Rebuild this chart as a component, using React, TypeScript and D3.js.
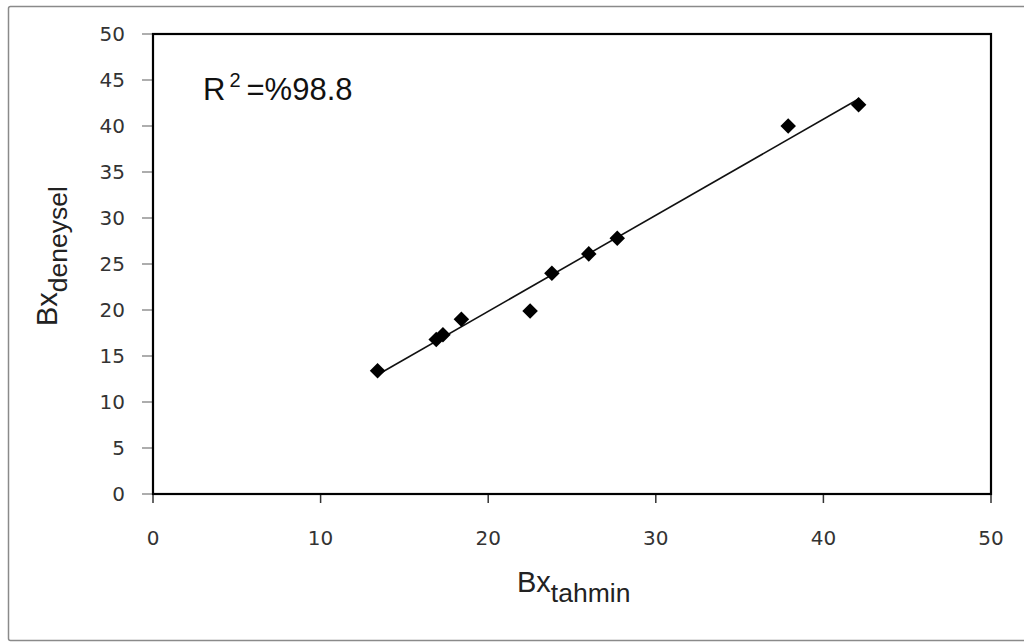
import React from "react";
import * as d3 from "d3";

const xValues = [13.4, 16.9, 17.3, 18.4, 22.5, 23.8, 26.0, 27.7, 37.9, 42.1];
const yValues = [13.4, 16.8, 17.3, 19.0, 19.9, 24.0, 26.1, 27.8, 40.0, 42.3];
const xTicks = [0, 10, 20, 30, 40, 50];
const yTicks = [0, 5, 10, 15, 20, 25, 30, 35, 40, 45, 50];

export default function App() {
  const W = 1024, H = 642;
  const left = 153, right = 991, top = 34, bottom = 494;
  const x = d3.scaleLinear().domain([0, 50]).range([left, right]);
  const y = d3.scaleLinear().domain([0, 50]).range([bottom, top]);

  const n = xValues.length;
  const mx = d3.mean(xValues)!;
  const my = d3.mean(yValues)!;
  let sxy = 0, sxx = 0;
  for (let i = 0; i < n; i++) {
    sxy += (xValues[i] - mx) * (yValues[i] - my);
    sxx += (xValues[i] - mx) ** 2;
  }
  const slope = sxy / sxx;
  const intercept = my - slope * mx;
  const x0 = d3.min(xValues)!, x1 = d3.max(xValues)!;
  const line = d3.line<number>().x((d) => x(d)).y((d) => y(slope * d + intercept));

  const tickFont = "'DejaVu Sans', Verdana, sans-serif";
  const labelFont = "'Liberation Sans', Arial, sans-serif";

  return (
    <svg width={W} height={H} style={{ position: "absolute", left: 0, top: 0 }}>
      <rect x={0} y={0} width={W} height={H} fill="#fff" />
      <rect x={8.5} y={6.5} width={1030} height={634} fill="#fff" stroke="#8a8a8a" strokeWidth={1.5} rx={2} />
      {yTicks.map((t) => (
        <g key={"y" + t}>
          <line x1={left - 11} x2={left} y1={y(t)} y2={y(t)} stroke="#777" strokeWidth={1.2} />
          <text x={left - 28} y={y(t)} dy="0.36em" textAnchor="end" fontFamily={tickFont} fontSize={20} fill="#333">
            {t}
          </text>
        </g>
      ))}
      {xTicks.map((t) => (
        <g key={"x" + t}>
          <line x1={x(t)} x2={x(t)} y1={bottom} y2={bottom + 9} stroke="#333" strokeWidth={1.5} />
          <text x={x(t)} y={bottom + 51} textAnchor="middle" fontFamily={tickFont} fontSize={20} fill="#333">
            {t}
          </text>
        </g>
      ))}
      <rect x={left} y={top} width={right - left} height={bottom - top} fill="none" stroke="#000" strokeWidth={2.2} />
      <path d={line([x0, x1]) ?? ""} stroke="#111" strokeWidth={1.6} fill="none" />
      {xValues.map((v, i) => (
        <path
          key={i}
          transform={`translate(${x(v)},${y(yValues[i])}) rotate(45)`}
          d="M-5.5,-5.5H5.5V5.5H-5.5Z"
          fill="#000"
        />
      ))}
      <text x={203} y={100} fontFamily={labelFont} fontSize={31} fill="#111">
        R<tspan dx={4} dy={-13} fontSize={20}>2</tspan>
        <tspan dx={6} dy={13}>=%98.8</tspan>
      </text>
      <text x={517} y={592} fontFamily={labelFont} fontSize={29} fill="#222">
        Bx<tspan dy={10} fontSize={26.5}>tahmin</tspan>
      </text>
      <text transform="translate(57,326) rotate(-90)" fontFamily={labelFont} fontSize={29} fill="#222">
        Bx<tspan dy={10} fontSize={26.5}>deneysel</tspan>
      </text>
    </svg>
  );
}
